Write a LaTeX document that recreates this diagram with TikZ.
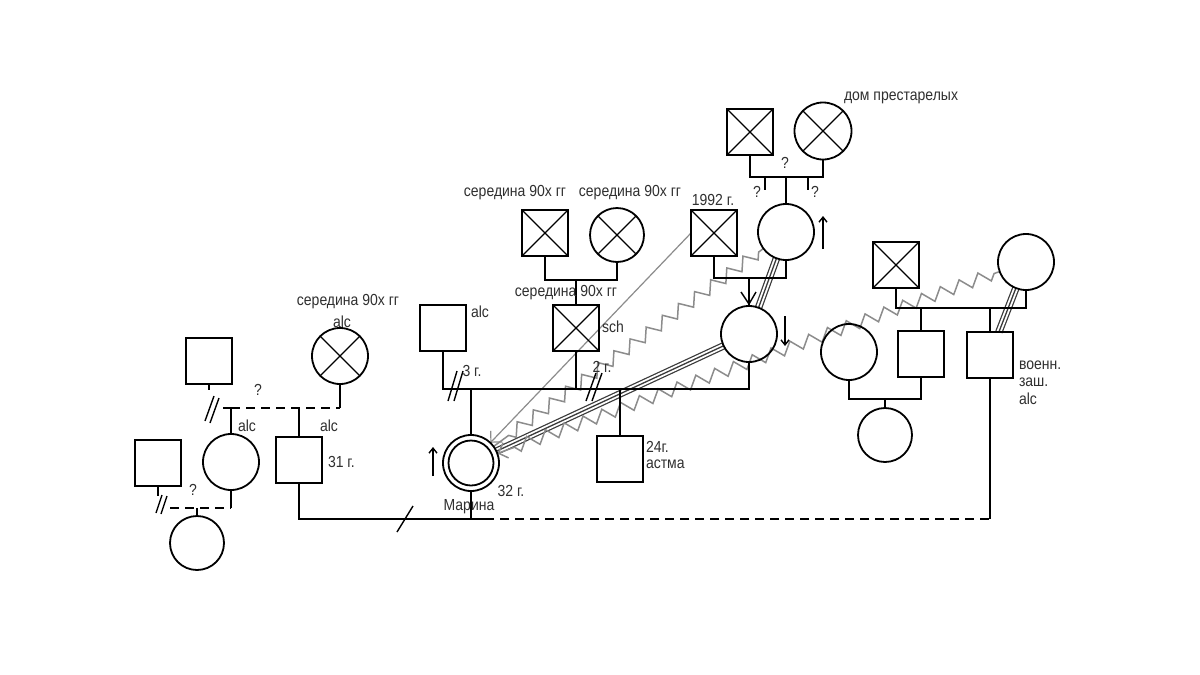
\documentclass[tikz,border=0pt]{standalone}
\usepackage{fontspec}
\setmainfont{Liberation Sans}
\newfontfamily\lblfont[FakeStretch=0.875]{Liberation Sans}
\usetikzlibrary{decorations.pathmorphing,arrows.meta}
\definecolor{txt}{HTML}{303030}
\definecolor{zz}{HTML}{8C8C8C}
\definecolor{tri}{HTML}{3A3A3A}
\pgfdeclarelayer{bg}
\pgfsetlayers{bg,main}
\begin{document}
\begin{tikzpicture}[x=1pt,y=-1pt,
  every node/.style={inner sep=0pt, outer sep=0pt},
  sq/.style={draw, line width=1.8, minimum size=46, rectangle},
  ci/.style={draw, line width=1.8, minimum size=56, circle},
  xx/.style={path picture={\draw[line width=1.3] (path picture bounding box.north west) -- (path picture bounding box.south east) (path picture bounding box.north east) -- (path picture bounding box.south west);}},
  lbl/.style={text=txt, font=\lblfont\fontsize{16}{18}\selectfont},
  ln/.style={line width=1.8},
  dsh/.style={line width=1.8, dash pattern=on 9 off 6},
  zig/.style={draw=zz, line width=1.5, decorate, decoration={zigzag, segment length=20, amplitude=6, pre length=6, post length=10}},
  triple/.style={preaction={draw=tri, line width=7.5}, preaction={draw=white, line width=5}, draw=tri, line width=1.3},
  bar/.style={line width=1.4},
  barb/.style={-{Straight Barb[length=8pt,width=16pt]}},
  sym/.style={line width=1.4, -{Straight Barb[length=5pt,width=8pt]}},
]
% ---------- nodes ----------
\node[sq] (sqA) at (209,361) {};
\node[ci,xx] (ciD) at (340,356) {};
\node[ci] (ciL) at (231,462) {};
\node[sq] (sq31) at (299,460) {};
\node[sq] (sqB) at (158,463) {};
\node[ci,minimum size=54] (ciC) at (197,543) {};

\node[sq] (sqAlc) at (443,328) {};
\node[sq,xx] (gpSq) at (545,233) {};
\node[ci,xx,minimum size=54] (gpCi) at (617,235) {};
\node[sq,xx] (sqSch) at (576,328) {};
\node[ci] (marina) at (471,463) {};
\node[ci,minimum size=45] (marinaIn) at (471,463) {};
\node[sq] (sq24) at (620,459) {};
\node[ci] (ciM) at (749,334) {};
\node[sq,xx] (sq1992) at (714,233) {};
\node[ci] (ciGM) at (786,232) {};
\node[sq,xx] (ggSq) at (750,132) {};
\node[ci,xx,minimum size=57] (ggCi) at (823,131) {};

\node[sq,xx] (sqR) at (896,265) {};
\node[ci] (ciR) at (1026,262) {};
\node[sq] (sqR1) at (921,354) {};
\node[sq] (sqR2) at (990,355) {};
\node[ci] (ciR1) at (849,352) {};
\node[ci,minimum size=54] (ciR2) at (885,435) {};

% ---------- levels ----------
\coordinate (yL) at (0,408);
\coordinate (yB) at (0,508);
\coordinate (yBot) at (0,519);
\coordinate (y1) at (0,389);
\coordinate (yGP) at (0,280);
\coordinate (yG) at (0,278);
\coordinate (yGG) at (0,177);
\coordinate (yR) at (0,308);
\coordinate (yR2) at (0,399);

% ---------- background layer ----------
\begin{pgfonlayer}{bg}
\path[fill=white] (0,0) rectangle (1200,675);
\draw[triple] (marina) -- (ciM);
\draw[triple] (ciM) -- (ciGM);
\draw[triple] (ciR) -- (sqR2);
\draw[zig, barb] (ciR) -- (marina);
\draw[zig] (ciGM) -- (marina);
\draw[draw=zz, line width=1.2, barb] (sq1992.west) -- (marina);
\end{pgfonlayer}
\path[use as bounding box] (0,0) rectangle (1200,675);

% ---------- left family ----------
\draw[ln] (sqA.south) -- ++(0,6);
\draw[bar] (205,421) -- (214,396);
\draw[bar] (210,423) -- (219,398);
\coordinate (lA) at (223,408);
\draw[ln] (lA) -- (ciL.north |- yL);
\draw[dsh] (ciL.north |- yL) -- (ciD.south |- yL);
\draw[ln] (ciD.south |- yL) -- (ciD.south);
\draw[ln] (ciL.north) -- (ciL.north |- yL);
\draw[ln] (sq31.north) -- (sq31.north |- yL);

\draw[ln] (sqB.south) -- ++(0,10);
\draw[bar] (156,513) -- (162,495);
\draw[bar] (161,514) -- (167,496);
\coordinate (lB) at (170,508);
\draw[dsh] (lB) -- (ciL.south |- yB);
\draw[ln] (ciL.south) -- (ciL.south |- yB);
\draw[ln] (ciC.north) -- (ciC.north |- yB);

% ---------- bottom line ----------
\coordinate (bd) at (485,519);
\draw[ln] (sq31.south) |- (bd);
\draw[ln] (marina.south) -- (marina.south |- yBot);
\draw[dsh] (bd) -- (sqR2.south |- yBot);
\draw[ln] (sqR2.south |- yBot) -- (sqR2.south);
\draw[bar] (397,532) -- (413,506);

% ---------- central family ----------
\draw[ln] (sqAlc.south) |- (ciM.south |- y1) -- (ciM.south);
\draw[ln] (marina.north) -- (marina.north |- y1);
\draw[ln] (sqSch.south) -- (sqSch.south |- y1);
\draw[ln] (sq24.north) -- (sq24.north |- y1);
\draw[bar] (448,401) -- (457,371);
\draw[bar] (454,401) -- (463,371);
\draw[bar] (586,401) -- (596,373);
\draw[bar] (592,401) -- (602,373);

\draw[ln] (gpSq.south) |- (gpCi.south |- yGP) -- (gpCi.south);
\draw[ln] (sqSch.north) -- (sqSch.north |- yGP);

\draw[ln] (sq1992.south) |- (ciGM.south |- yG) -- (ciGM.south);
\draw[ln] (ciM.north) -- (ciM.north |- yG);
\draw[bar] (741,292) -- (749,304) -- (756,292);

\draw[ln] (ggSq.south) |- (ggCi.south |- yGG) -- (ggCi.south);
\draw[ln] (ciGM.north) -- (ciGM.north |- yGG);
\coordinate (t1) at (765,177);
\coordinate (t2) at (808,177);
\draw[ln] (t1) -- ++(0,13);
\draw[ln] (t2) -- ++(0,13);

% ---------- right family ----------
\draw[ln] (sqR.south) |- (ciR.south |- yR) -- (ciR.south);
\draw[ln] (sqR1.north) -- (sqR1.north |- yR);
\draw[ln] (sqR2.north) -- (sqR2.north |- yR);
\draw[ln] (ciR1.south) |- (sqR1.south |- yR2) -- (sqR1.south);
\draw[ln] (ciR2.north) -- (ciR2.north |- yR2);

% ---------- arrows ----------
\draw[sym] (433,476) -- (433,447);
\draw[sym] (785,316) -- (785,346);
\draw[sym] (823,249) -- (823,216);

% ---------- labels ----------
\node[lbl] (l1) at (348,302) {середина 90х гг};
\node[lbl] (l2) at (342,322) {alc};
\node[lbl] (l3) at (258,390) {?};
\node[lbl, anchor=west] (l4) at (238,426) {alc};
\node[lbl, anchor=west] (l5) at (320,426) {alc};
\node[lbl, anchor=west] (l6) at (328,462) {31 г.};
\node[lbl] (l7) at (193,490) {?};
\node[lbl, anchor=west] (l8) at (471,312) {alc};
\node[lbl] (l9) at (515,193) {середина 90х гг};
\node[lbl] (l10) at (630,193) {середина 90х гг};
\node[lbl] (l11) at (566,293) {середина 90х гг};
\node[lbl, anchor=west] (l12) at (602,327) {sch};
\node[lbl] (l13) at (713,200) {1992 г.};
\node[lbl] (l14) at (901,98) {дом престарелых};
\node[lbl] (l15) at (785,163) {?};
\node[lbl] (l16) at (757,192) {?};
\node[lbl] (l17) at (815,192) {?};
\node[lbl] (l18) at (472,371) {3 г.};
\node[lbl] (l19) at (602,367) {2 г.};
\node[lbl] (l20) at (469,507) {Марина};
\node[lbl] (l21) at (511,491) {32 г.};
\node[lbl, anchor=west] (l22) at (646,447) {24г.};
\node[lbl, anchor=west] (l23) at (646,464) {астма};
\node[lbl, anchor=west] (l24) at (1019,365) {военн.};
\node[lbl, anchor=west] (l25) at (1019,382) {заш.};
\node[lbl, anchor=west] (l26) at (1019,399) {alc};
\end{tikzpicture}
\end{document}
